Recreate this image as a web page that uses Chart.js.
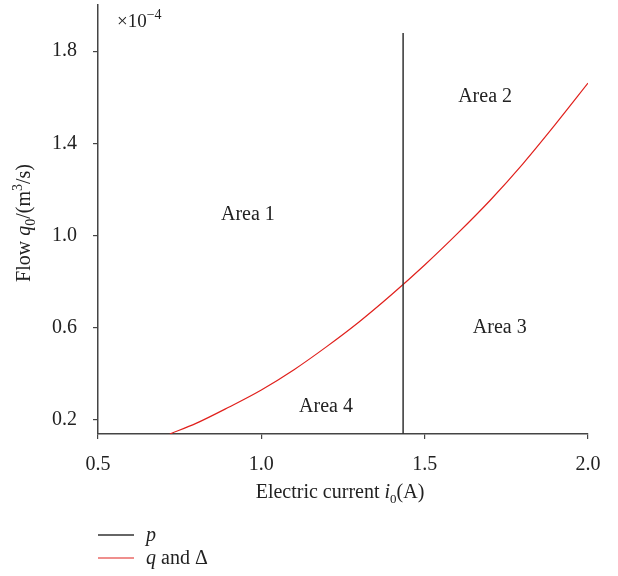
<!DOCTYPE html>
<html>
<head>
<meta charset="utf-8">
<script src="https://cdn.jsdelivr.net/npm/chart.js@4.4.1/dist/chart.umd.min.js"></script>
<style>
  html, body { margin: 0; padding: 0; background: #fff; }
  #wrap { width: 618px; height: 576px; position: relative; }
</style>
</head>
<body>
<div id="wrap"><canvas id="c" width="618" height="576"></canvas></div>
<script>
// ---- Data (flow in units of 1e-4 m^3/s) ----
const currentQ = [0.72, 0.8, 0.9, 1.0, 1.1, 1.2, 1.3, 1.4, 1.5, 1.6, 1.7, 1.8, 1.9, 2.0];
const flowQ    = [0.139, 0.185, 0.255, 0.33, 0.418, 0.518, 0.626, 0.745, 0.872, 1.008, 1.152, 1.31, 1.482, 1.661];
const currentP = [1.434, 1.434];
const flowP    = [0.139, 1.878];
const xTicks = [0.5, 1.0, 1.5, 2.0];
const yTicks = [0.2, 0.6, 1.0, 1.4, 1.8];
const areaLabels = ["Area 1", "Area 2", "Area 3", "Area 4"];
const areaX = [0.959, 1.685, 1.73, 1.198];
const areaY = [1.091, 1.604, 0.60, 0.257];

const SERIF = '"Liberation Serif", "DejaVu Serif", serif';
const AXIS_COLOR = '#444';
const FS = 20;

function pts(xs, ys) { return xs.map((x, i) => ({ x: x, y: ys[i] })); }

function drawRich(ctx, segs, x, y, align) {
  let total = 0;
  segs.forEach(s => {
    ctx.font = (s.italic ? 'italic ' : '') + (s.size || FS) + 'px ' + SERIF;
    s.w = ctx.measureText(s.t).width;
    total += s.w;
  });
  let cx = align === 'center' ? x - total / 2 : x;
  segs.forEach(s => {
    ctx.font = (s.italic ? 'italic ' : '') + (s.size || FS) + 'px ' + SERIF;
    ctx.fillText(s.t, cx, y + (s.dy || 0));
    cx += s.w;
  });
}

const textPlugin = {
  id: 'texts',
  afterDraw(chart) {
    const ctx = chart.ctx;
    const xs = chart.scales.x, ys = chart.scales.y;
    ctx.save();
    ctx.fillStyle = '#222';
    ctx.font = FS + 'px ' + SERIF;
    ctx.textAlign = 'center';
    ctx.textBaseline = 'middle';
    areaLabels.forEach((l, i) => {
      ctx.fillText(l, xs.getPixelForValue(areaX[i]), ys.getPixelForValue(areaY[i]));
    });
    ctx.textAlign = 'left';
    ctx.textBaseline = 'alphabetic';
    // exponent label
    drawRich(ctx, [{ t: '\u00D710', size: 19 }, { t: '\u22124', size: 14, dy: -8 }], 117, 27, 'left');
    // x title
    drawRich(ctx, [
      { t: 'Electric current ' },
      { t: 'i', italic: true },
      { t: '0', size: 13, dy: 5 },
      { t: '(A)' }
    ], 340, 498, 'center');
    // y title (rotated)
    ctx.save();
    ctx.translate(30, 223);
    ctx.rotate(-Math.PI / 2);
    drawRich(ctx, [
      { t: 'Flow ' },
      { t: 'q', italic: true },
      { t: '0', size: 14, dy: 5 },
      { t: '/(m' },
      { t: '3', size: 14, dy: -8 },
      { t: '/s)' }
    ], 0, 0, 'center');
    ctx.restore();
    // legend
    ctx.lineWidth = 1.5;
    ctx.strokeStyle = '#333';
    ctx.beginPath(); ctx.moveTo(98, 535); ctx.lineTo(134, 535); ctx.stroke();
    ctx.lineWidth = 1.2;
    ctx.strokeStyle = '#e0201c';
    ctx.beginPath(); ctx.moveTo(98, 558); ctx.lineTo(134, 558); ctx.stroke();
    drawRich(ctx, [{ t: 'p', italic: true }], 146, 541, 'left');
    drawRich(ctx, [{ t: 'q', italic: true }, { t: ' and \u0394' }], 146, 564, 'left');
    ctx.restore();
  }
};

new Chart(document.getElementById('c'), {
  type: 'scatter',
  data: {
    datasets: [
      {
        label: 'p',
        data: pts(currentP, flowP),
        showLine: true,
        borderColor: '#333',
        borderWidth: 1.5,
        pointRadius: 0,
        fill: false
      },
      {
        label: 'q and \u0394',
        data: pts(currentQ, flowQ),
        showLine: true,
        borderColor: '#e0201c',
        borderWidth: 1.2,
        pointRadius: 0,
        cubicInterpolationMode: 'monotone',
        fill: false
      }
    ]
  },
  options: {
    responsive: false,
    animation: false,
    devicePixelRatio: 1,
    layout: { padding: { top: 5, right: 30, left: 0, bottom: 0 } },
    plugins: { legend: { display: false }, tooltip: { enabled: false }, title: { display: false } },
    scales: {
      x: {
        type: 'linear',
        min: 0.5, max: 2.0,
        afterBuildTicks: s => { s.ticks = xTicks.map(v => ({ value: v })); },
        afterFit: s => { s.height = 142; s.paddingLeft = 0; s.paddingRight = 0; },
        grid: { display: true, drawOnChartArea: false, drawTicks: true, tickLength: 5, color: AXIS_COLOR, lineWidth: 1.2 },
        border: { display: true, color: AXIS_COLOR, width: 1.5 },
        ticks: {
          padding: 14,
          color: '#222',
          font: { family: SERIF, size: FS },
          maxRotation: 0,
          callback: v => v.toFixed(1)
        }
      },
      y: {
        type: 'linear',
        min: 0.139, max: 2.0,
        afterBuildTicks: s => { s.ticks = yTicks.map(v => ({ value: v })); },
        afterFit: s => { s.width = 98; s.paddingTop = 0; s.paddingBottom = 0; },
        grid: { display: true, drawOnChartArea: false, drawTicks: true, tickLength: 5, color: AXIS_COLOR, lineWidth: 1.2 },
        border: { display: true, color: AXIS_COLOR, width: 1.5 },
        ticks: {
          padding: 16,
          color: '#222',
          font: { family: SERIF, size: FS },
          callback: v => v.toFixed(1)
        }
      }
    }
  },
  plugins: [textPlugin]
});
</script>
</body>
</html>
